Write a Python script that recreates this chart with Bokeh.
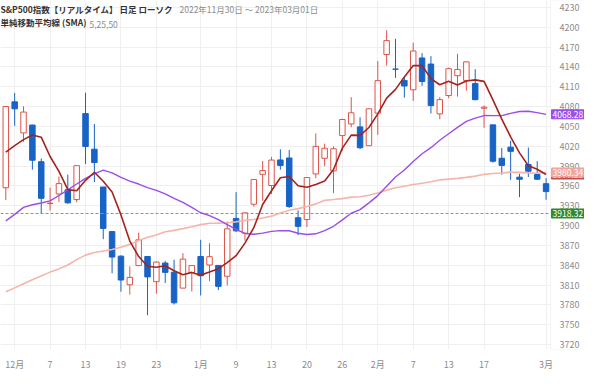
import numpy as np
from bokeh.plotting import figure
from bokeh.models import Range1d, FixedTicker, Label, BoxAnnotation
from bokeh.embed import file_html
from bokeh.resources import INLINE

# ---------------- data ----------------
dates = ["2022-11-30",
         "2022-12-01", "2022-12-02", "2022-12-05", "2022-12-06", "2022-12-07", "2022-12-08", "2022-12-09",
         "2022-12-12", "2022-12-13", "2022-12-14", "2022-12-15", "2022-12-16", "2022-12-19", "2022-12-20",
         "2022-12-21", "2022-12-22", "2022-12-23", "2022-12-27", "2022-12-28", "2022-12-29", "2022-12-30",
         "2023-01-03", "2023-01-04", "2023-01-05", "2023-01-06", "2023-01-09", "2023-01-10", "2023-01-11",
         "2023-01-12", "2023-01-13", "2023-01-17", "2023-01-18", "2023-01-19", "2023-01-20", "2023-01-23",
         "2023-01-24", "2023-01-25", "2023-01-26", "2023-01-27", "2023-01-30", "2023-01-31",
         "2023-02-01", "2023-02-02", "2023-02-03", "2023-02-06", "2023-02-07", "2023-02-08", "2023-02-09",
         "2023-02-10", "2023-02-13", "2023-02-14", "2023-02-15", "2023-02-16", "2023-02-17", "2023-02-21",
         "2023-02-22", "2023-02-23", "2023-02-24", "2023-02-27", "2023-02-28", "2023-03-01"]

opens = [3957.18,
         4087.14, 4040.17, 4052.02, 3996.63, 3933.28, 3947.79, 3954.17,
         3939.29, 4069.38, 4015.54, 3958.37, 3890.91, 3853.79, 3810.47,
         3839.49, 3853.26, 3815.11, 3843.34, 3829.56, 3805.45, 3829.06,
         3853.29, 3840.36, 3839.74, 3823.37, 3910.82, 3888.57, 3932.35,
         3977.57, 3960.60, 3999.28, 4002.25, 3911.84, 3909.04, 3978.14,
         4001.74, 3982.71, 4036.08, 4053.72, 4049.27, 4020.85,
         4070.07, 4158.68, 4136.69, 4119.57, 4105.35, 4153.47, 4144.25,
         4068.92, 4096.62, 4126.70, 4119.50, 4114.75, 4077.39, 4052.35,
         4001.83, 4018.60, 3973.24, 3992.36, 3977.19, 3963.34]

highs = [4080.11,
         4100.51, 4080.48, 4052.45, 4001.51, 3957.57, 3974.19, 3977.02,
         3990.71, 4100.96, 4053.76, 3958.37, 3890.91, 3854.86, 3838.24,
         3889.28, 3853.26, 3845.80, 3846.65, 3848.32, 3858.19, 3839.85,
         3878.46, 3873.16, 3839.74, 3906.19, 3950.57, 3919.83, 3970.07,
         3997.76, 4003.95, 4015.39, 4014.16, 3922.94, 3972.96, 4039.31,
         4023.92, 4019.55, 4061.57, 4094.21, 4063.85, 4077.16,
         4148.95, 4195.44, 4182.36, 4124.63, 4176.54, 4160.77, 4156.23,
         4094.36, 4138.90, 4159.77, 4148.11, 4136.54, 4081.51, 4052.35,
         4017.37, 4028.30, 3978.25, 4018.05, 3997.50, 3971.73]

lows = [3938.58,
        4050.87, 4026.63, 3984.49, 3918.39, 3922.68, 3935.83, 3933.04,
        3935.30, 3993.03, 3965.65, 3879.45, 3827.91, 3800.04, 3795.62,
        3839.49, 3764.49, 3797.01, 3813.22, 3780.78, 3805.45, 3800.34,
        3794.33, 3815.77, 3802.42, 3809.56, 3890.42, 3877.29, 3928.54,
        3937.56, 3947.67, 3984.57, 3926.59, 3885.54, 3897.86, 3971.64,
        3989.79, 3949.06, 4013.29, 4048.70, 4015.55, 4020.44,
        4037.20, 4141.88, 4123.36, 4093.38, 4088.39, 4111.21, 4069.67,
        4060.79, 4092.67, 4095.01, 4103.98, 4089.49, 4047.95, 3995.19,
        3976.90, 3969.19, 3943.08, 3973.55, 3968.98, 3939.05]

closes = [4080.11,
          4076.57, 4071.70, 3998.84, 3941.26, 3933.92, 3963.51, 3934.38,
          3990.56, 4019.65, 3995.32, 3895.75, 3852.36, 3817.66, 3821.62,
          3878.44, 3822.39, 3844.82, 3829.25, 3783.22, 3849.28, 3839.50,
          3824.14, 3852.97, 3808.10, 3895.08, 3892.09, 3919.25, 3969.61,
          3983.17, 3999.09, 3990.97, 3928.86, 3898.85, 3972.61, 4019.81,
          4016.95, 4016.22, 4060.43, 4070.56, 4017.77, 4076.60,
          4119.21, 4179.76, 4136.48, 4111.08, 4164.00, 4117.86, 4081.50,
          4090.46, 4137.29, 4136.13, 4147.60, 4090.41, 4079.09, 3997.34,
          3991.05, 4012.32, 3970.04, 3982.24, 3970.15, 3951.39]

# closes of the 49 sessions before 2022-11-30 (2022-09-21 .. 2022-11-29), for the moving averages
history_closes = [3789.93, 3757.99, 3693.23, 3655.04, 3647.29, 3719.04, 3640.47, 3585.62,
                  3678.43, 3790.93, 3783.28, 3744.52, 3639.66, 3612.39, 3588.84, 3577.03,
                  3669.91, 3583.07, 3677.95, 3719.98, 3695.16, 3665.78, 3752.75, 3797.34,
                  3859.11, 3830.60, 3807.30, 3901.06, 3871.98,
                  3856.10, 3759.69, 3719.89, 3770.55, 3806.80, 3828.11, 3748.57, 3956.37,
                  3992.93, 3957.25, 3991.73, 3958.79, 3946.56, 3965.34, 3949.94, 4003.58,
                  4027.26, 4026.12, 3963.94, 3957.63]

ma_periods = [5, 25, 50]
tick_index = [1, 5, 9, 13, 17, 22, 26, 30, 34, 38, 42, 46, 50, 54, 61]
tick_labels = ["12月", "7", "13", "19", "23", "1月", "9", "13", "20", "26", "2月", "7", "13", "17", "3月"]
y_ticks = list(range(3720, 4231, 30))
marker_level = 3918.32

title_main = "S&P500指数【リアルタイム】 日足 ローソク"
title_dates = "2022年11月30日 ～ 2023年03月01日"
sub_main = "単純移動平均線 (SMA)"
sub_periods = "5,25,50"

# ---------------- styling ----------------
UP = "#dd5449"
DOWN = "#1763c6"
MA_COLORS = {5: "#a3231f", 25: "#9b4dea", 50: "#f5b5aa"}
FONT = "Noto Sans CJK JP"
X0, XEDGE, X1 = -0.6, 61.5, 65.34      # plot start, candle-area edge, right end (label column)
Y0, Y1 = 3712.6, 4240.4

n = len(closes)
x = np.arange(n)
o = np.array(opens); h = np.array(highs); l = np.array(lows); c = np.array(closes)
allc = np.array(history_closes + closes)

def sma(period):
    out = []
    off = len(history_closes)
    for i in range(n):
        j = off + i
        out.append(allc[j - period + 1:j + 1].mean())
    return np.array(out)

mas = {p: sma(p) for p in ma_periods}

p = figure(width=584, height=373, output_backend="svg", toolbar_location=None,
           x_range=Range1d(X0, X1), y_range=Range1d(Y0, Y1),
           y_axis_location="right", min_border_left=0, min_border_top=0,
           min_border_right=0, min_border_bottom=14)
p.background_fill_color = "white"
p.border_fill_color = "white"
p.outline_line_color = None

# grid
p.xgrid.ticker = FixedTicker(ticks=tick_index)
p.ygrid.ticker = FixedTicker(ticks=y_ticks)
p.xgrid.grid_line_color = "#efefef"
p.ygrid.grid_line_color = "#efefef"

# white label column to the right of the candle area (hides grid there)
p.add_layout(BoxAnnotation(left=XEDGE, fill_color="white", fill_alpha=1.0,
                           line_color="#dddddd", line_width=1, level="underlay"))

# axes
p.xaxis.ticker = FixedTicker(ticks=tick_index)
p.xaxis.major_label_overrides = {i: t for i, t in zip(tick_index, tick_labels)}
p.yaxis.ticker = FixedTicker(ticks=y_ticks)
p.yaxis.fixed_location = XEDGE
for ax in (p.xaxis[0], p.yaxis[0]):
    ax.axis_line_color = None
    ax.major_tick_line_color = None
    ax.minor_tick_line_color = None
    ax.major_label_text_font_size = "9px"
    ax.major_label_text_color = "#8c8c8c"
    ax.major_label_text_font = FONT
    ax.major_label_standoff = 2
p.yaxis.major_label_standoff = 3

# candles
inc = c >= o
dec = ~inc
p.segment(x[inc], h[inc], x[inc], l[inc], color=UP, line_width=1)
p.segment(x[dec], h[dec], x[dec], l[dec], color=DOWN, line_width=1)
p.vbar(x=x[inc], width=0.62, top=np.maximum(o, c)[inc], bottom=np.minimum(o, c)[inc],
       fill_color="white", line_color=UP, line_width=1)
p.vbar(x=x[dec], width=0.62, top=np.maximum(o, c)[dec], bottom=np.minimum(o, c)[dec],
       fill_color=DOWN, line_color=DOWN, line_width=1)

# marker line (candle area only)
p.segment([X0], [marker_level], [XEDGE], [marker_level], line_color="#5cb85c",
          line_dash="3 2", line_width=1)

# moving averages
p.line(x, mas[50], line_color=MA_COLORS[50], line_width=1.6)
p.line(x, mas[25], line_color=MA_COLORS[25], line_width=1.4)
p.line(x, mas[5], line_color=MA_COLORS[5], line_width=1.6)

# right-edge value boxes
def value_box(yv, bg, txt):
    p.add_layout(Label(x=XEDGE, y=yv, x_offset=1, text=txt, text_font_size="8.5px",
                       text_font=FONT, text_color="white", text_baseline="middle",
                       text_align="left", background_fill_color=bg,
                       border_line_color=bg, padding=1, level="overlay"))

value_box(mas[5][-1], "#c0504a", f"{mas[5][-1]:.2f}")
value_box(mas[50][-1], "#f2a59d", f"{mas[50][-1]:.2f}")
value_box(mas[25][-1], "#9b4dea", f"{mas[25][-1]:.2f}")
value_box(marker_level, "#2e8b2e", f"{marker_level:.2f}")

# titles
def title(txt, xo, yo, bold, color):
    p.add_layout(Label(x=X0, y=Y1, x_offset=xo, y_offset=yo, text=txt,
                       text_font=FONT, text_font_size="8.5px",
                       text_font_style="bold" if bold else "normal",
                       text_color=color, text_baseline="alphabetic", text_align="left"))

title(title_main, 0, -8, True, "#333333")
title(title_dates, 179, -8, False, "#8c8c8c")
title(sub_main, 0, -21, True, "#333333")
title(sub_periods, 89, -24, False, "#8c8c8c")

open("out.html", "w").write(file_html(p, INLINE))
